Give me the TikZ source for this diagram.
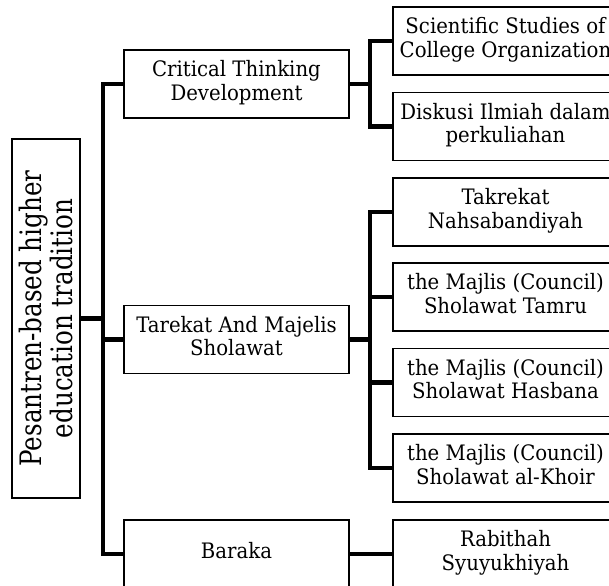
\documentclass[tikz,border=0pt]{standalone}
\usepackage{fontspec}
\setmainfont{DejaVu Serif}
\newcommand{\tx}[1]{\makebox[150pt][c]{\scalebox{1}[1.08]{\begin{tabular}{@{}c@{}}#1\end{tabular}}}}
\begin{document}
\begin{tikzpicture}[x=1pt,y=-1pt,
  box/.style={draw, line width=1.4pt, minimum width=225pt, minimum height=68pt, inner sep=0pt,
    font=\fontsize{19.7}{21.8}\selectfont},
  conn/.style={line width=4.5pt, line join=miter}]
\useasboundingbox (0,0) rectangle (609,585);
\clip (0,0) rectangle (609,585);
% root
\node[box, minimum width=68pt, minimum height=359pt] (root) at (46,318.5) {};
\node[inner sep=0pt, font=\fontsize{24.6}{25}\selectfont] (roottext) at (50,318.5)
  {\rotatebox{90}{\scalebox{1}[1.2]{\begin{tabular}{@{}c@{}}Pesantren-based higher\\education tradition\end{tabular}}}};
% level 1
\node[box] (crit) at (236.5,84) {\tx{Critical Thinking\\Development}};
\node[box] (tar) at (236.5,339.5) {\tx{Tarekat And Majelis\\Sholawat}};
\node[box] (bar) at (236.5,554) {\tx{Baraka}};
% level 2
\node[box] (sci) at (505.5,41) {\tx{Scientific Studies of\\College Organization}};
\node[box] (dis) at (505.5,126.5) {\tx{Diskusi Ilmiah dalam\\perkuliahan}};
\node[box] (tak) at (505.5,212) {\tx{Takrekat\\Nahsabandiyah}};
\node[box] (tam) at (505.5,297) {\tx{the Majlis (Council)\\Sholawat Tamru}};
\node[box] (has) at (505.5,382.5) {\tx{the Majlis (Council)\\Sholawat Hasbana}};
\node[box] (kho) at (505.5,468) {\tx{the Majlis (Council)\\Sholawat al-Khoir}};
\node[box] (rab) at (505.5,554) {\tx{Rabithah\\Syuyukhiyah}};
% junction points
\coordinate (tk) at (103,318.5);
\coordinate (s1) at (370,84);
\coordinate (s2) at (370,339.5);
% connectors
\draw[conn] (crit.west) -| (tk) |- (bar.west);
\draw[conn] (root.east) -- (tk);
\draw[conn] (tar.west) -- (tar.west -| tk);
\draw[conn] (crit.east) -- (s1);
\draw[conn] (sci.west) -| (s1) |- (dis.west);
\draw[conn] (tar.east) -- (s2);
\draw[conn] (tak.west) -| (s2) |- (kho.west);
\draw[conn] (tam.west) -- (tam.west -| s2);
\draw[conn] (has.west) -- (has.west -| s2);
\draw[conn] (bar.east) -- (rab.west);
\end{tikzpicture}
\end{document}
